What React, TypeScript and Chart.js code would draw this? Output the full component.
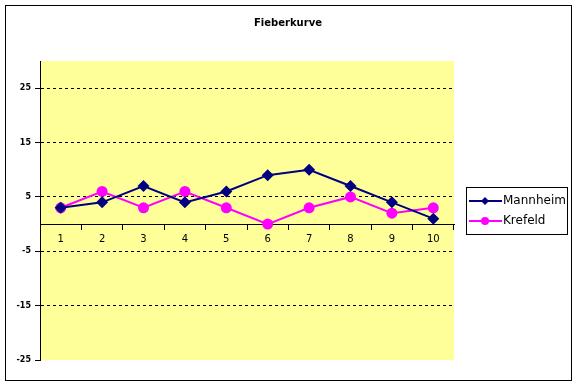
import React, { useEffect, useRef } from 'react';
import { Chart, registerables } from 'chart.js';
Chart.register(...registerables);

const chartTitle = 'Fieberkurve';
const categories = ['1', '2', '3', '4', '5', '6', '7', '8', '9', '10'];
const mannheim = [3, 4, 7, 4, 6, 9, 10, 7, 4, 1];
const krefeld = [3, 6, 3, 6, 3, 0, 3, 5, 2, 3];
const yTicks = [-25, -15, -5, 5, 15, 25];
const yMin = -25;
const yMax = 30;

const FONT = "'DejaVu Sans', sans-serif";

function drawMarker(ctx: CanvasRenderingContext2D, style: string, x: number, y: number, r: number, color: string) {
  ctx.fillStyle = color;
  ctx.beginPath();
  if (style === 'rectRot') {
    ctx.moveTo(x, y - r);
    ctx.lineTo(x + r, y);
    ctx.lineTo(x, y + r);
    ctx.lineTo(x - r, y);
    ctx.closePath();
  } else {
    ctx.arc(x, y, r, 0, Math.PI * 2);
  }
  ctx.fill();
}

const decor = {
  id: 'decor',
  beforeDraw(chart: any) {
    const { ctx, chartArea: a, width, height } = chart;
    ctx.save();
    ctx.fillStyle = '#ffffff';
    ctx.fillRect(0, 0, width, height);
    ctx.fillStyle = '#FFFF99';
    ctx.fillRect(a.left, a.top, a.right - a.left, a.bottom - a.top);
    ctx.strokeStyle = '#000';
    ctx.lineWidth = 1;
    ctx.strokeRect(5.5, 5.5, 566, 375);
    ctx.fillStyle = '#000';
    ctx.font = `bold 10px ${FONT}`;
    ctx.textAlign = 'center';
    ctx.textBaseline = 'middle';
    ctx.fillText(chartTitle, 288, 23);
    ctx.restore();
  },
  afterDraw(chart: any) {
    const { ctx } = chart;
    ctx.save();
    const bx = 466.5, by = 187.5, bw = 101, bh = 47;
    ctx.strokeStyle = '#000';
    ctx.lineWidth = 1;
    ctx.strokeRect(bx, by, bw, bh);
    ctx.font = `12px ${FONT}`;
    ctx.textBaseline = 'middle';
    ctx.textAlign = 'left';
    chart.data.datasets.forEach((ds: any, i: number) => {
      const y = 201 + i * 20;
      ctx.strokeStyle = ds.borderColor;
      ctx.lineWidth = 2;
      ctx.beginPath();
      ctx.moveTo(469, y);
      ctx.lineTo(502, y);
      ctx.stroke();
      drawMarker(ctx, ds.pointStyle, 485, y, 4, ds.borderColor);
      ctx.fillStyle = '#000';
      ctx.fillText(ds.label, 503, y);
    });
    ctx.restore();
  },
};

export default function App() {
  const ref = useRef<HTMLCanvasElement | null>(null);
  useEffect(() => {
    if (!ref.current) return;
    const chart = new Chart(ref.current, {
      type: 'line',
      data: {
        labels: categories,
        datasets: [
          {
            label: 'Mannheim',
            data: mannheim,
            borderColor: '#000080',
            backgroundColor: '#000080',
            borderWidth: 2,
            pointStyle: 'rectRot',
            pointRadius: 6,
            pointBorderWidth: 0,
            tension: 0,
          },
          {
            label: 'Krefeld',
            data: krefeld,
            borderColor: '#FF00FF',
            backgroundColor: '#FF00FF',
            borderWidth: 2,
            pointStyle: 'circle',
            pointRadius: 5.5,
            pointBorderWidth: 0,
            tension: 0,
          },
        ],
      },
      options: {
        responsive: false,
        animation: false,
        layout: { padding: { left: 0, top: 61, right: 123, bottom: 25 } },
        plugins: {
          legend: { display: false },
          tooltip: { enabled: false },
          title: { display: false },
        },
        scales: {
          x: {
            type: 'category',
            position: { y: 0 } as any,
            offset: true,
            grid: {
              drawOnChartArea: false,
              drawTicks: true,
              tickLength: 5,
              offset: true,
              color: '#000',
              tickColor: '#000',
            },
            border: { display: true, color: '#000', width: 1 },
            ticks: {
              color: '#000',
              font: { family: FONT, size: 10 },
              padding: 4,
              maxRotation: 0,
              autoSkip: false,
            },
          },
          y: {
            type: 'linear',
            min: yMin,
            max: yMax,
            afterBuildTicks: (s: any) => {
              s.ticks = yTicks.map((v) => ({ value: v }));
            },
            afterFit: (s: any) => {
              s.width = 40;
            },
            grid: {
              color: (c: any) => (c.tick && c.tick.value === yMin ? 'rgba(0,0,0,0)' : '#000'),
              tickColor: '#000',
              tickLength: 5,
              lineWidth: 1,
            },
            border: { display: true, color: '#000', width: 1, dash: [3, 3] },
            ticks: {
              color: '#000',
              font: { family: FONT, size: 8, weight: 'bold' },
              padding: 4,
            },
          },
        },
      },
      plugins: [decor],
    } as any);
    return () => chart.destroy();
  }, []);
  return (
    <div style={{ position: 'absolute', left: 0, top: 0, width: 577, height: 385 }}>
      <canvas ref={ref} width={577} height={385} style={{ display: 'block' }} />
    </div>
  );
}
